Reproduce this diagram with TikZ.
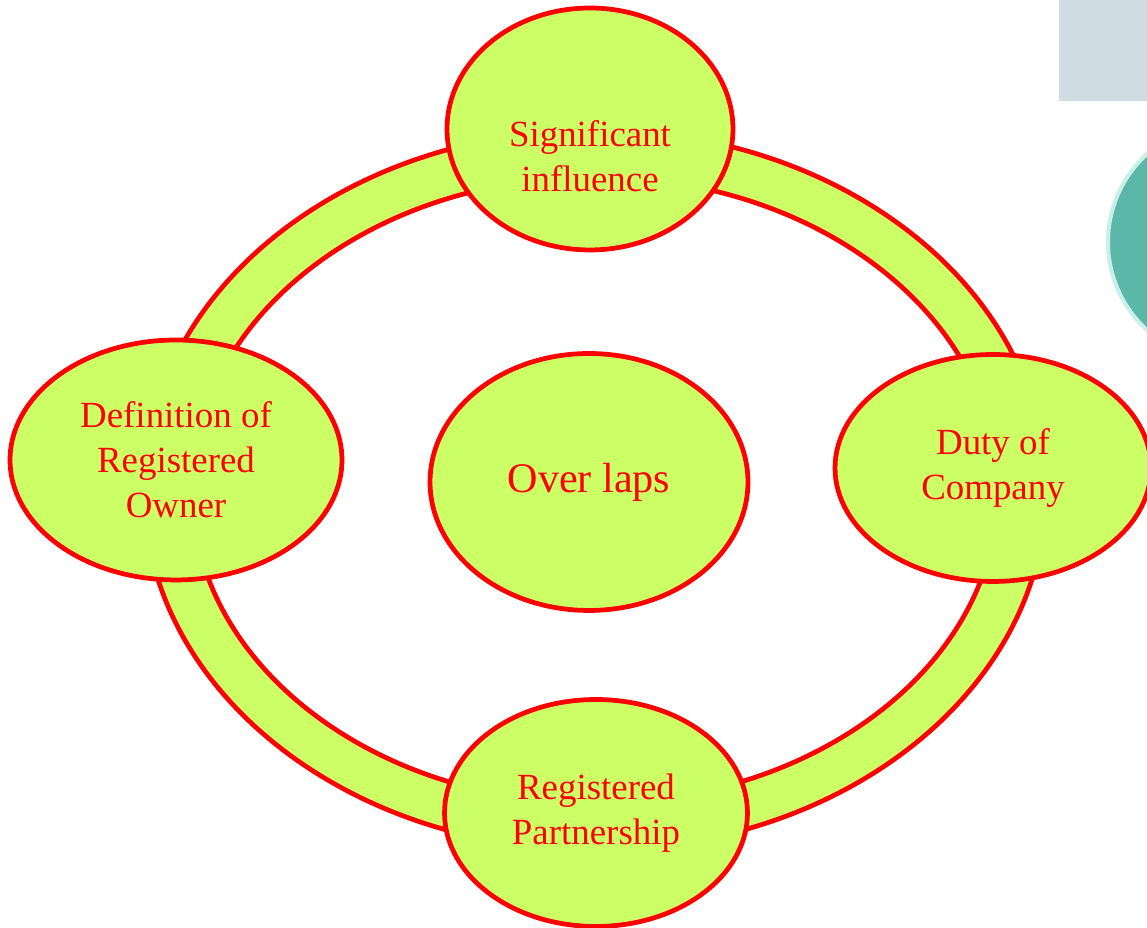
\documentclass[tikz,border=0pt]{standalone}
\usepackage{fontspec}
\setmainfont{Liberation Serif}
\usetikzlibrary{shapes.geometric}

\definecolor{ringgreen}{RGB}{204,255,102}
\definecolor{ringred}{RGB}{255,0,0}
\definecolor{panelgrey}{RGB}{207,220,225}
\definecolor{tealfill}{RGB}{91,184,168}
\definecolor{tealrim}{RGB}{200,240,232}

\tikzset{
	topic/.style={ellipse, draw=ringred, fill=ringgreen, line width=0.095cm, inner sep=0pt,
		text=ringred, align=center, font=\fontsize{21}{25.5}\selectfont},
	ring/.style={draw=ringred, fill=ringgreen, line width=0.095cm, even odd rule}
}

\begin{document}
\begin{tikzpicture}[x=0.02cm, y=0.02cm]
		%%%%% START %%%%%
		\useasboundingbox (0, 0) rectangle (1147, 928);
		
		\fill[panelgrey] (1059, 827) rectangle (1147, 928);
		\draw[fill=tealfill, draw=tealrim, line width=0.08cm] (1227, 686) circle (119);
		
		\path[ring] (595, 438) ellipse (451 and 360) (595, 438) ellipse (403 and 313);
		
		\node[topic, minimum width=5.72cm, minimum height=4.84cm] (sig) at (590, 799) {};
		\node[text=ringred, align=center, font=\fontsize{21}{25.5}\selectfont] (sigtext) at (590, 772) {Significant\\influence};
		
		\node[topic, minimum width=6.64cm, minimum height=4.8cm] (owner) at (176, 468) {Definition of\\Registered\\Owner};
		\node[topic, minimum width=6.32cm, minimum height=4.54cm] (duty) at (993, 460) {Duty of\\Company};
		\node[topic, minimum width=6.06cm, minimum height=4.54cm] (partner) at (596, 115) {Registered\\Partnership};
		
		\node[topic, minimum width=6.36cm, minimum height=5.14cm, font=\fontsize{24}{29}\selectfont] (overlap) at (589, 446) {Over laps};
		
		%%%%% END %%%%%
	\end{tikzpicture}
\end{document}
